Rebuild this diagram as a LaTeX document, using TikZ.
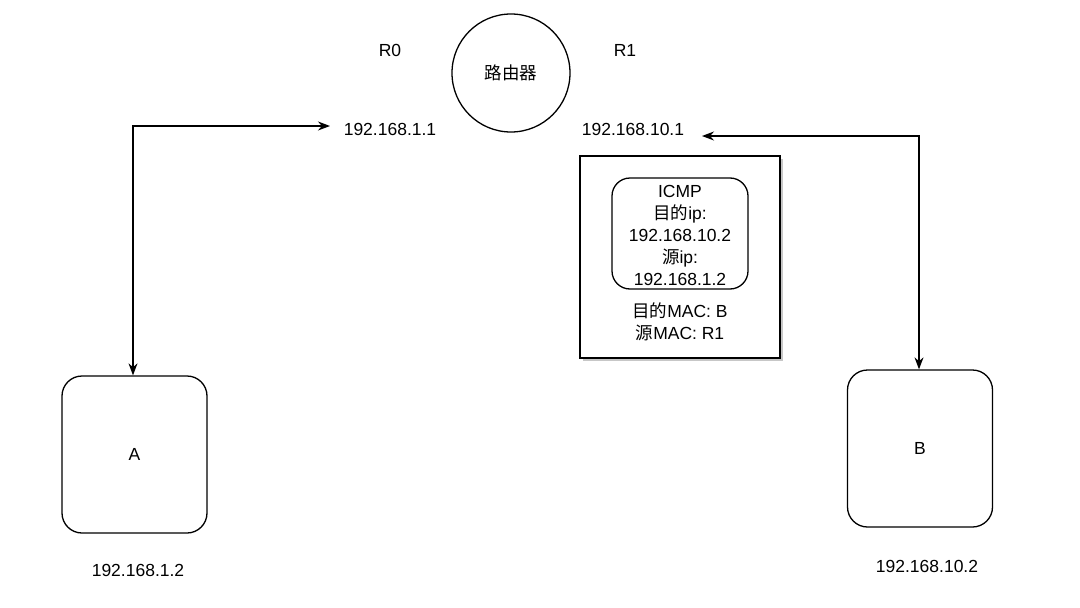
\documentclass[tikz,border=0pt]{standalone}
\usepackage{fontspec}
\setmainfont{Liberation Sans}
\newfontfamily\cjk{Noto Sans CJK SC}
\usetikzlibrary{arrows.meta}
\begin{document}
\begin{tikzpicture}[x=1pt,y=-1pt,
  every node/.style={font=\fontsize{17.5}{22}\selectfont, inner sep=0pt},
  lbl/.style={align=center},
  host/.style={draw, line width=1.3pt, rounded corners=20pt, minimum width=145pt, minimum height=157pt},
  conn/.style={line width=1.3pt, {Stealth[length=12pt,width=9pt]}-{Stealth[length=12pt,width=9pt]}},
  shadowed/.style={preaction={fill=black!22, transform canvas={xshift=3pt,yshift=-3pt}}}
]
\useasboundingbox (0,0) rectangle (1080,608);
% router
\node[draw, circle, line width=1.3pt, minimum size=118pt] (router) at (511,73) {{\cjk 路由器}};
\node (r0) at (390,50) {R0};
\node (r1) at (625,50) {R1};
\node (ip0) at (390,129) {192.168.1.1};
\node (ip1) at (633,129) {192.168.10.1};
% hosts
\node[host] (a) at (134.5,454.5) {A};
\node[host] (b) at (920,448.5) {B};
\node (ipa) at (138,570) {192.168.1.2};
\node (ipb) at (927,566) {192.168.10.2};
% packet
\node[draw, fill=white, shadowed, line width=1.3pt, minimum width=200pt, minimum height=202pt] (pkt) at (680,257) {};
\node[draw, line width=1.3pt, rounded corners=18pt, minimum width=136pt, minimum height=111pt] (inner) at (680,233.5) {};
\node[lbl] (itext) at (680,235) {ICMP\\{\cjk 目的}ip:\\192.168.10.2\\{\cjk 源}ip:\\192.168.1.2};
\node[lbl] (mac) at (680,322) {{\cjk 目的}MAC: B\\{\cjk 源}MAC: R1};
% connectors
\coordinate (pa) at (330,126);
\coordinate (pb) at (702,136);
\draw[conn] (a.north -| 133,0) |- (pa);
\draw[conn] (pb) -| (b.north -| 919,0);
\end{tikzpicture}
\end{document}
